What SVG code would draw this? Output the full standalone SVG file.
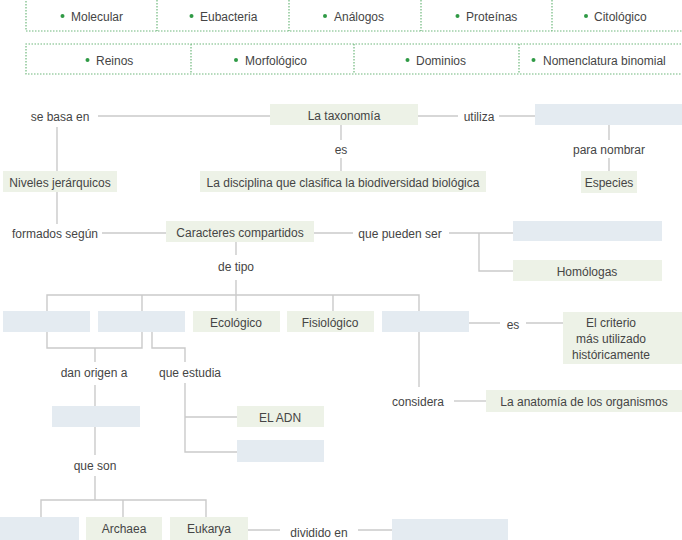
<svg xmlns="http://www.w3.org/2000/svg" width="682" height="540" viewBox="0 0 682 540">
<style>
text{font-family:"Liberation Sans",Arial,sans-serif;font-size:12px;fill:#454545}
.m{text-anchor:middle}
.g{fill:#edf2e7}
.b{fill:#e4ebf1}
.bank{fill:none;stroke:#6fb87c;stroke-width:1.2;stroke-dasharray:1.5 1.5}
.dot{fill:#2f9a45}
#connectors path{fill:none;stroke:#cacaca;stroke-width:1.4}
</style>
<rect width="682" height="540" fill="#ffffff"/>
<g id="bank1">
<path class="bank" d="M26,-2 V31 H690 M157,0 V31 M289,0 V31 M421,0 V31 M552,0 V31"/>
<circle class="dot" cx="62.5" cy="16" r="2"/><text x="71" y="21">Molecular</text>
<circle class="dot" cx="191.5" cy="16" r="2"/><text x="200" y="21">Eubacteria</text>
<circle class="dot" cx="325" cy="16" r="2"/><text x="334" y="21">Análogos</text>
<circle class="dot" cx="457.5" cy="16" r="2"/><text x="466" y="21">Proteínas</text>
<circle class="dot" cx="586" cy="16" r="2"/><text x="594" y="21">Citológico</text>
</g>
<g id="bank2">
<path class="bank" d="M690,44 H26 V74 H690 M191,44 V74 M354,44 V74 M519,44 V74"/>
<circle class="dot" cx="87.5" cy="60" r="2"/><text x="96" y="65">Reinos</text>
<circle class="dot" cx="236" cy="60" r="2"/><text x="245" y="65">Morfológico</text>
<circle class="dot" cx="407.5" cy="60" r="2"/><text x="416" y="65">Dominios</text>
<circle class="dot" cx="533.5" cy="60" r="2"/><text x="543" y="65">Nomenclatura binomial</text>
</g>
<g id="connectors">
<path d="M98,116 H270 M418,116 H458 M499,116 H535"/>
<path d="M341,125 V140 M341,158 V171"/>
<path d="M609,125 V140 M609,158 V171"/>
<path d="M57,127 V171 M57,192 V224"/>
<path d="M102,233 H166"/>
<path d="M314,233 H353 M449,233 H513 M479,233 V271 H513"/>
<path d="M236,242 V255 M236,280 V311"/>
<path d="M47,311 V295 H419 V311 M142,295 V311 M333,295 V311"/>
<path d="M47,332 V348 H142 V332 M95,348 V362"/>
<path d="M152,332 V348 H185 V362"/>
<path d="M185,383 V452 H237 M185,417 H237"/>
<path d="M95,385 V406 M95,427 V455 M95,476 V500"/>
<path d="M41,517 V500 H206 V517 M123,500 V517"/>
<path d="M248,530 H280 M358,530 H392"/>
<path d="M469,323 H500 M526,323 H563"/>
<path d="M419,332 V387"/>
<path d="M454,401 H486"/>
</g>
<g id="labels">
<text class="m" x="60" y="121">se basa en</text>
<text class="m" x="479" y="121">utiliza</text>
<text class="m" x="341" y="154">es</text>
<text class="m" x="609" y="154">para nombrar</text>
<text class="m" x="55" y="238">formados según</text>
<text class="m" x="400" y="238">que pueden ser</text>
<text class="m" x="236" y="271">de tipo</text>
<text class="m" x="94" y="377">dan origen a</text>
<text class="m" x="190" y="377">que estudia</text>
<text class="m" x="513" y="329">es</text>
<text class="m" x="418" y="406">considera</text>
<text class="m" x="95" y="470">que son</text>
<text class="m" x="319" y="537">dividido en</text>
</g>
<g id="taxonomia"><rect class="g" x="270" y="104" width="148" height="21"/><text class="m" x="344" y="120">La taxonomía</text></g>
<g id="blank-utiliza"><rect class="b" x="535" y="104" width="147" height="21"/></g>
<g id="especies"><rect class="g" x="581" y="171" width="56" height="22"/><text class="m" x="609" y="187">Especies</text></g>
<g id="disciplina"><rect class="g" x="200" y="171" width="286" height="21"/><text class="m" x="343" y="187">La disciplina que clasifica la biodiversidad biológica</text></g>
<g id="niveles"><rect class="g" x="3" y="171" width="114" height="21"/><text class="m" x="60" y="187">Niveles jerárquicos</text></g>
<g id="caracteres"><rect class="g" x="166" y="221" width="148" height="21"/><text class="m" x="240" y="237">Caracteres compartidos</text></g>
<g id="blank-pueden"><rect class="b" x="513" y="221" width="149" height="20"/></g>
<g id="homologas"><rect class="g" x="513" y="260" width="149" height="21"/><text class="m" x="587" y="276">Homólogas</text></g>
<g id="blank-tipo1"><rect class="b" x="3" y="311" width="87" height="21"/></g>
<g id="blank-tipo2"><rect class="b" x="98" y="311" width="87" height="21"/></g>
<g id="ecologico"><rect class="g" x="193" y="311" width="87" height="21"/><text class="m" x="236" y="327">Ecológico</text></g>
<g id="fisiologico"><rect class="g" x="287" y="311" width="87" height="21"/><text class="m" x="330" y="327">Fisiológico</text></g>
<g id="blank-tipo3"><rect class="b" x="382" y="311" width="87" height="21"/></g>
<g id="criterio"><rect class="g" x="563" y="312" width="119" height="52"/>
<text class="m" x="611" y="327">El criterio</text><text class="m" x="611" y="343">más utilizado</text><text class="m" x="611" y="359">históricamente</text></g>
<g id="anatomia"><rect class="g" x="486" y="390" width="196" height="22"/><text class="m" x="584" y="406">La anatomía de los organismos</text></g>
<g id="blank-origen"><rect class="b" x="52" y="406" width="88" height="21"/></g>
<g id="adn"><rect class="g" x="237" y="406" width="87" height="21"/><text class="m" x="280" y="422">EL ADN</text></g>
<g id="blank-estudia"><rect class="b" x="237" y="440" width="87" height="22"/></g>
<g id="blank-dominio"><rect class="b" x="0" y="517" width="79" height="25"/></g>
<g id="archaea"><rect class="g" x="86" y="517" width="76" height="25"/><text class="m" x="124" y="533">Archaea</text></g>
<g id="eukarya"><rect class="g" x="170" y="517" width="78" height="25"/><text class="m" x="209" y="533">Eukarya</text></g>
<g id="blank-dividido"><rect class="b" x="392" y="519" width="116" height="23"/></g>
</svg>
